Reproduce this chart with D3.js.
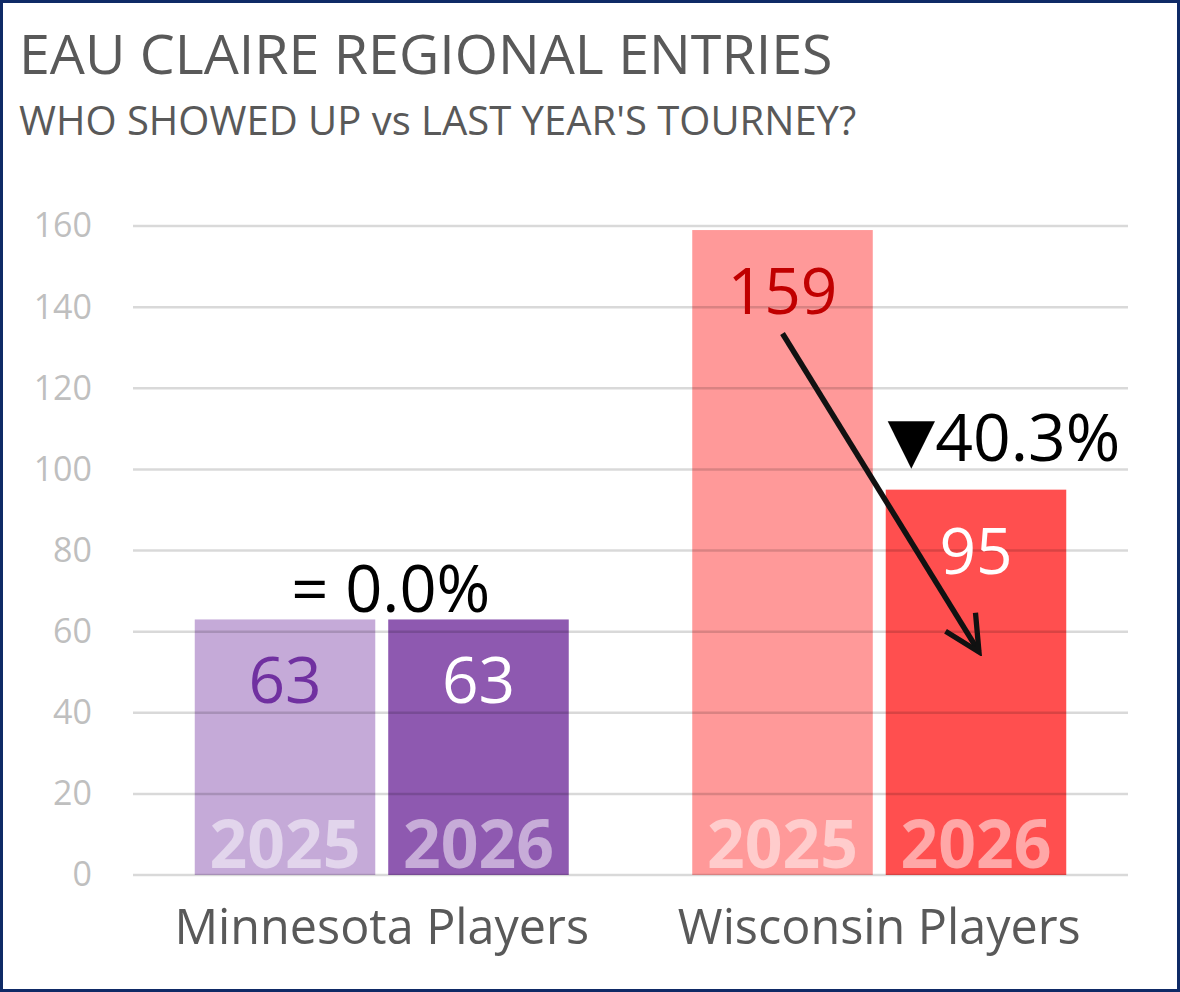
<html>
<head>
    <script src="https://d3js.org/d3.v7.min.js"></script>
    <style>
        body { margin: 0; background: white; }
        text { font-family: "Open Sans", sans-serif; }
    </style>
</head>
<body>
    <svg id="chart" width="1180" height="992"></svg>
    <script>
        // data
        const categories = ["Minnesota Players", "Wisconsin Players"];
        const years = ["2025", "2026"];
        const entries2025 = [63, 159];
        const entries2026 = [63, 95];
        const yTicks = [0, 20, 40, 60, 80, 100, 120, 140, 160];
        const changeLabels = [["", "= 0.0%"], ["▼", "40.3%"]];

        const barColors = [["#c5aad8", "#8e59b0"], ["#ff9999", "#ff4f4f"]];
        const valueColors = [["#7030a0", "#ffffff"], ["#c00000", "#ffffff"]];

        const svg = d3.select("#chart");
        const width = +svg.attr("width");
        const height = +svg.attr("height");

        const plotLeft = 133, plotRight = 1128, plotTop = 226, plotBottom = 875;

        const x = d3.scaleBand().domain(categories).range([plotLeft, plotRight]);
        const groupPad = (x.bandwidth() - 374) / 2;
        const xYear = d3.scaleBand().domain(years)
            .range([groupPad, x.bandwidth() - groupPad])
            .paddingInner(0.067);
        const y = d3.scaleLinear().domain([0, 160]).range([plotBottom, plotTop]);

        const rows = [];
        categories.forEach((c, i) => {
            rows.push({ cat: c, year: years[0], value: entries2025[i], ci: i, yi: 0 });
            rows.push({ cat: c, year: years[1], value: entries2026[i], ci: i, yi: 1 });
        });
        const bx = d => x(d.cat) + xYear(d.year);

        // title
        svg.append("text").attr("x", 19).attr("y", 74)
            .attr("font-size", 55.5).attr("fill", "#595959")
            .text("EAU CLAIRE REGIONAL ENTRIES");
        svg.append("text").attr("x", 19).attr("y", 135)
            .attr("font-size", 40).attr("fill", "#595959")
            .text("WHO SHOWED UP vs LAST YEAR'S TOURNEY?");

        // bars
        svg.append("g").selectAll("rect").data(rows).join("rect")
            .attr("x", bx)
            .attr("y", d => y(d.value))
            .attr("width", xYear.bandwidth())
            .attr("height", d => y(0) - y(d.value))
            .attr("fill", d => barColors[d.ci][d.yi]);

        // gridlines on top so they show through the bars
        svg.append("g").selectAll("line").data(yTicks).join("line")
            .attr("x1", plotLeft).attr("x2", plotRight)
            .attr("y1", d => y(d)).attr("y2", d => y(d))
            .attr("stroke", "black").attr("stroke-opacity", 0.15)
            .attr("stroke-width", 2.5);

        // y axis labels
        const yAxis = d3.axisLeft(y).tickValues(yTicks).tickSize(0).tickPadding(41);
        const ga = svg.append("g").attr("transform", `translate(${plotLeft},0)`).call(yAxis);
        ga.select(".domain").remove();
        ga.selectAll("text").attr("font-size", 34).attr("fill", "#bfbfbf")
            .attr("font-family", "Open Sans, sans-serif");

        // x axis labels
        const xAxis = d3.axisBottom(x).tickSize(0).tickPadding(35);
        const gx = svg.append("g").attr("transform", `translate(0,${plotBottom})`).call(xAxis);
        gx.select(".domain").remove();
        gx.selectAll("text").attr("font-size", 48.5).attr("fill", "#595959")
            .attr("font-family", "Open Sans, sans-serif");

        // value labels inside bars
        svg.append("g").selectAll("text").data(rows).join("text")
            .attr("x", d => bx(d) + xYear.bandwidth() / 2)
            .attr("y", d => y(d.value) + 84)
            .attr("text-anchor", "middle")
            .attr("font-size", 64)
            .attr("fill", d => valueColors[d.ci][d.yi])
            .text(d => d.value);

        // year labels at bar base
        svg.append("g").selectAll("text").data(rows).join("text")
            .attr("x", d => bx(d) + xYear.bandwidth() / 2)
            .attr("y", y(0) - 7)
            .attr("text-anchor", "middle")
            .attr("font-size", 66).attr("font-weight", "bold")
            .attr("fill", "white").attr("fill-opacity", 0.5)
            .text(d => d.year);

        // change labels
        const ch = svg.append("g");
        const mnTop = y(entries2026[0]);
        ch.append("text")
            .attr("x", x(categories[0]) + x.bandwidth() / 2 + 9)
            .attr("y", Math.min(y(entries2025[0]), mnTop) - 7)
            .attr("text-anchor", "middle").attr("font-size", 65).attr("fill", "black")
            .text(changeLabels[0][1]);

        const wi25 = rows[2], wi26 = rows[3];
        const t2 = ch.append("text")
            .attr("x", bx(wi26) + xYear.bandwidth() / 2 + 28)
            .attr("y", y(wi26.value) - 29)
            .attr("text-anchor", "middle").attr("font-size", 66).attr("fill", "black");
        t2.append("tspan").attr("font-family", "DejaVu Sans").attr("font-size", 62)
            .text(changeLabels[1][0]);
        t2.append("tspan").text(changeLabels[1][1]);

        // arrow from 2025 bar down into 2026 bar
        svg.append("defs").append("marker")
            .attr("id", "head").attr("viewBox", "0 0 10 10")
            .attr("refX", 9).attr("refY", 5)
            .attr("markerWidth", 8).attr("markerHeight", 8)
            .attr("markerUnits", "strokeWidth")
            .attr("orient", "auto")
            .append("path").attr("d", "M1,1 L9,5 L1,9")
            .attr("fill", "none").attr("stroke", "#111").attr("stroke-width", 1.2);

        svg.append("line")
            .attr("x1", bx(wi25) + xYear.bandwidth() / 2)
            .attr("y1", y(133.5))
            .attr("x2", bx(wi26) + xYear.bandwidth() / 2 + 3)
            .attr("y2", y(55))
            .attr("stroke", "#111").attr("stroke-width", 5.5)
            .attr("marker-end", "url(#head)");

        // frame
        svg.append("rect").attr("x", 1.5).attr("y", 1.5)
            .attr("width", width - 3).attr("height", height - 3)
            .attr("fill", "none").attr("stroke", "#0f2a66").attr("stroke-width", 3);
    </script>
</body>
</html>
